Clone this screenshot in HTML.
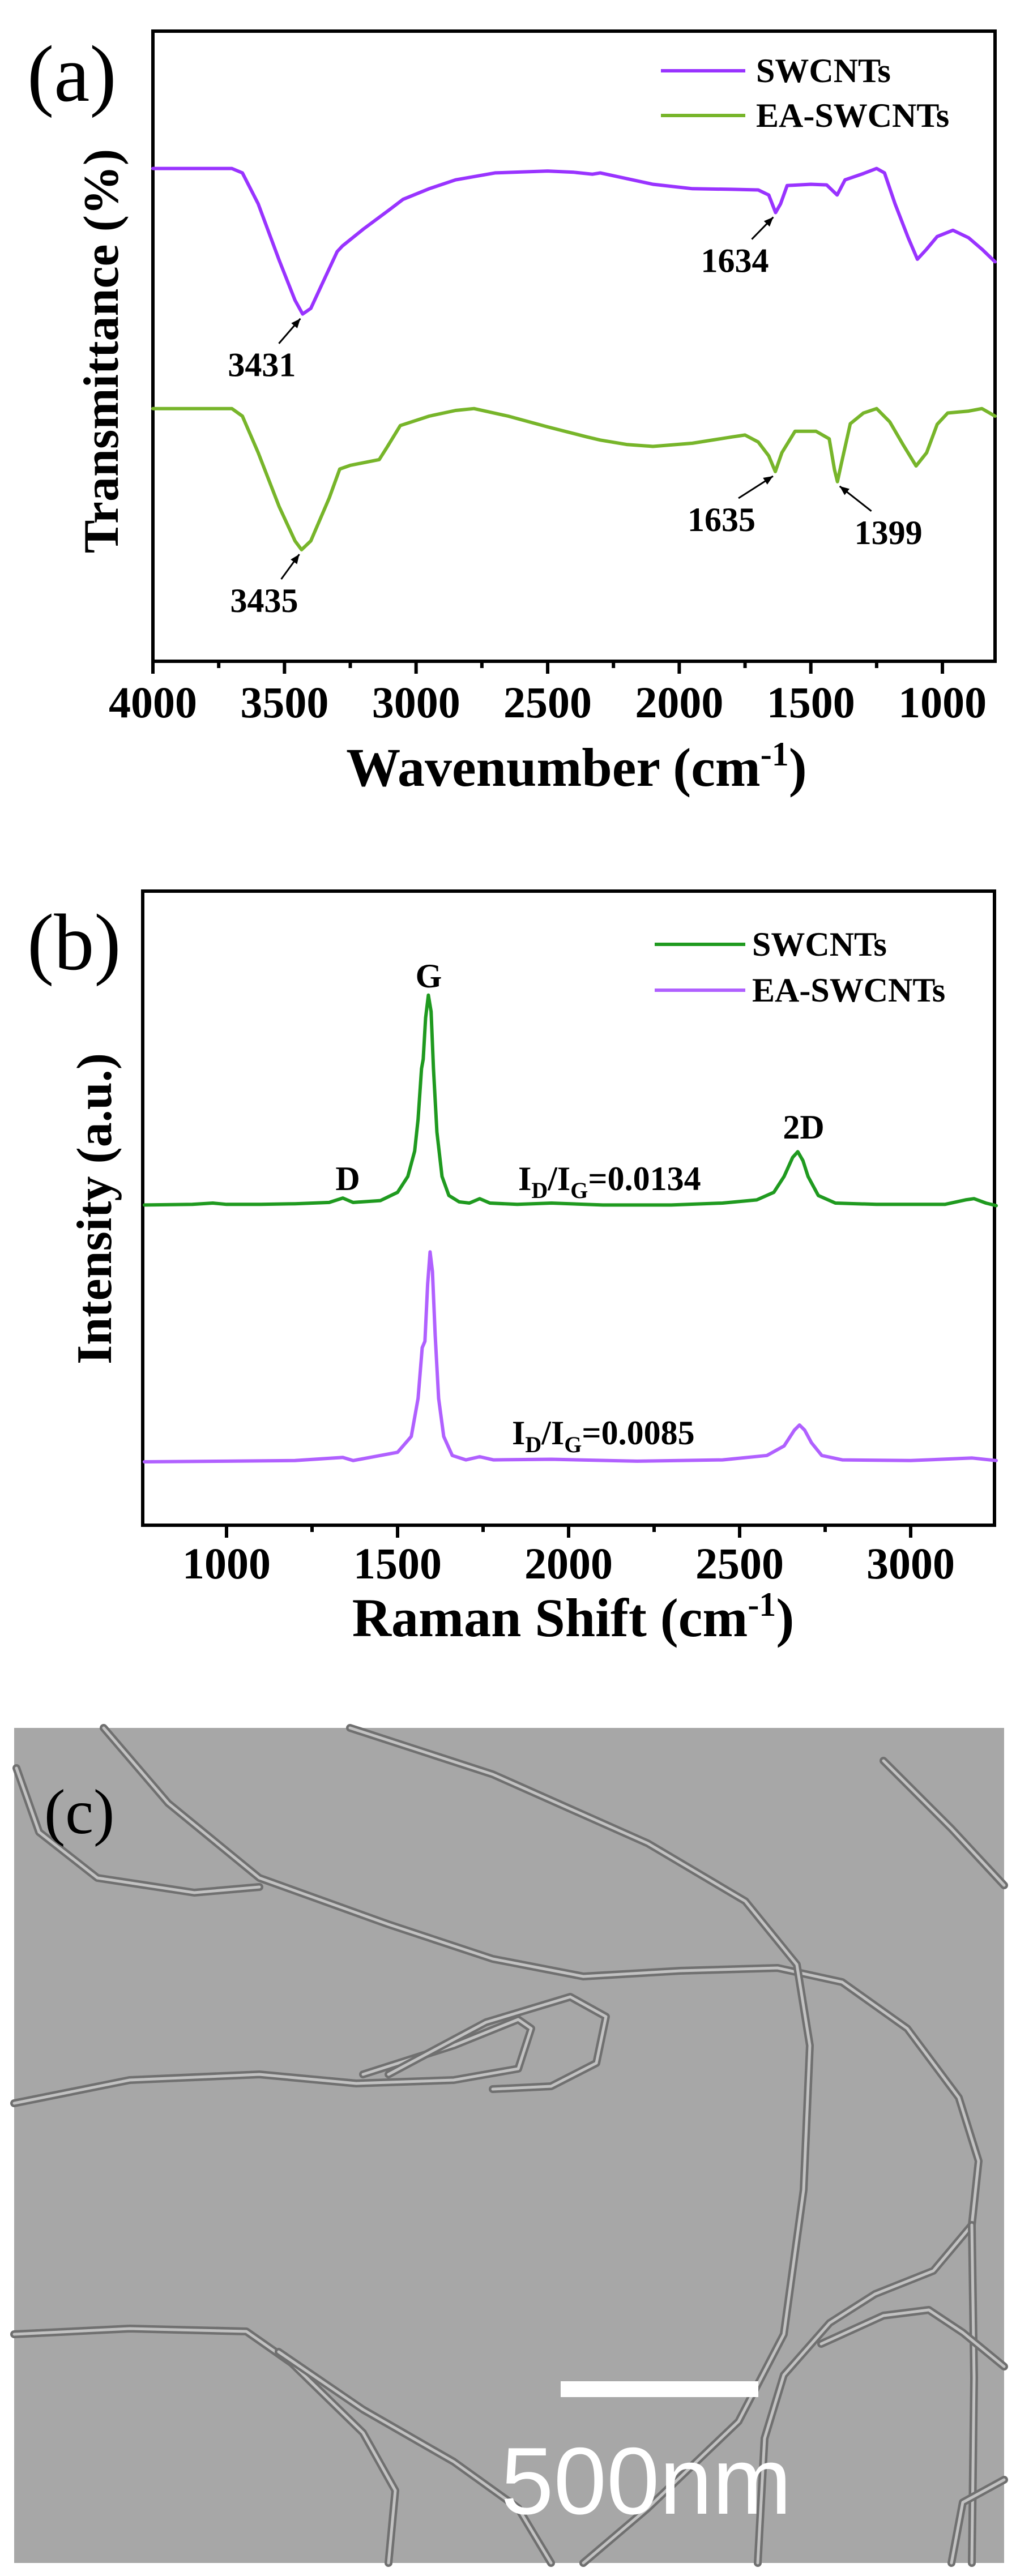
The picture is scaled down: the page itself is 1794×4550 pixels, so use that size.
<!DOCTYPE html>
<html><head><meta charset="utf-8">
<style>
html,body{margin:0;padding:0;background:#fff;}
svg{display:block;}
text{font-family:"Liberation Serif",serif;}
</style></head>
<body>
<svg id="fig" width="1794" height="4550" viewBox="0 0 1794 4550" xmlns="http://www.w3.org/2000/svg">
<rect width="1794" height="4550" fill="#fff"/>
<g id="pa"></g>
<g id="pb"></g>
<g id="pc">
  <rect x="25" y="3052" width="1748" height="1475" fill="#a7a7a7"/>
  <g fill="none" stroke-linecap="round" stroke-linejoin="round" id="fibers"></g>
  <rect x="990" y="4206" width="349" height="28" fill="#fff"/>
  <text x="1141" y="4440" style="font-family:'Liberation Sans',sans-serif" font-size="168" fill="#fff" text-anchor="middle">500nm</text>
  <text x="78" y="3238" font-size="112" fill="#000">(c)</text>
</g>
</svg>
<script>
// ---------- Panel (a) FTIR data ----------
const ftirWave = [4000,3700,3660,3600,3520,3460,3431,3400,3350,3300,3280,3200,3100,3050,2950,2850,2700,2500,2400,2330,2300,2200,2100,1950,1800,1700,1660,1634,1615,1590,1500,1440,1400,1370,1300,1250,1220,1180,1130,1095,1060,1020,960,900,850,800];
const ftirSW = [78.2,78.2,77.5,72.6,63.6,57.3,55.1,56,60.5,65,65.9,68.6,71.7,73.3,75,76.4,77.5,77.8,77.6,77.3,77.5,76.6,75.7,75,74.9,74.8,74,71.2,72.6,75.5,75.7,75.6,74,76.4,77.4,78.2,77.5,72.6,67.2,63.8,65.4,67.4,68.4,67.2,65.4,63.4];
const ftirWaveEA = [4000,3700,3660,3600,3520,3460,3435,3400,3330,3290,3250,3140,3110,3060,2950,2850,2780,2650,2500,2350,2300,2200,2100,1950,1800,1750,1700,1660,1635,1610,1560,1480,1430,1410,1399,1385,1350,1300,1250,1200,1150,1100,1060,1020,980,900,850,800];
const ftirEA = [40.1,40.1,38.9,33.1,24.5,19.1,17.7,19.1,25.9,30.5,31.1,32,34,37.4,38.9,39.8,40.1,38.9,37.2,35.6,35.1,34.4,34.1,34.6,35.6,35.9,34.8,32.6,30.1,33.1,36.5,36.5,35.3,30.4,28.5,31.2,37.7,39.4,40.1,38,34.4,31,33.1,37.6,39.4,39.7,40.1,38.9];
const ftirTicks = [4000,3500,3000,2500,2000,1500,1000];
const ftirPeaksSW = [3431,1634];
const ftirPeaksEA = [3435,1635,1399];

// ---------- Panel (b) Raman data ----------
const ramanShift = [760,900,960,1000,1100,1200,1300,1340,1370,1450,1500,1530,1550,1560,1570,1575,1582,1590,1598,1605,1615,1630,1650,1680,1710,1740,1770,1850,1950,2100,2300,2450,2550,2600,2630,2655,2670,2685,2700,2730,2780,2900,3100,3160,3185,3220,3250];
const ramanSW = [50.5,50.6,50.8,50.6,50.6,50.7,50.9,51.6,50.9,51.2,52.5,55,59,64,72,73.5,80,83.6,81,72,62,55,52,51,50.8,51.5,50.8,50.6,50.8,50.5,50.5,50.8,51.3,52.5,55,58,58.9,57.5,55,52,50.8,50.6,50.6,51.3,51.5,50.8,50.4];
const ramanShiftEA = [760,1000,1200,1340,1370,1500,1540,1560,1572,1580,1588,1595,1602,1610,1620,1635,1660,1700,1740,1780,1950,2200,2450,2580,2630,2660,2675,2690,2710,2740,2800,3000,3180,3250];
const ramanEA = [10,10.1,10.2,10.7,10.2,11.5,14,20,28,29,38,43.1,40,30,20,14,11,10.3,10.8,10.3,10.4,10.1,10.3,11,12.5,15,15.8,15,13,11,10.3,10.2,10.6,10.2];
const ramanTicks = [1000,1500,2000,2500,3000];

const NS="http://www.w3.org/2000/svg";
function mk(parent,tag,attrs,txt){const e=document.createElementNS(NS,tag);for(const k in attrs)e.setAttribute(k,attrs[k]);if(txt!==undefined)e.textContent=txt;parent.appendChild(e);return e;}

// ===== Panel A =====
const A={l:270,r:1757,t:55,b:1168,x0:4000,x1:800};
const xA=w=>A.l+(A.x0-w)*(A.r-A.l)/(A.x0-A.x1);
const yA=v=>A.b-v*(A.b-A.t)/100;
const pa=document.getElementById('pa');
const laA=mk(pa,'text',{x:48,y:178,'font-size':142,fill:'#000'},'(a)');


const frA=mk(pa,'rect',{x:A.l,y:A.t,width:A.r-A.l,height:A.b-A.t,fill:'none',stroke:'#000','stroke-width':6});


for(let w=4000;w>=800;w-=250){
  const major=ftirTicks.includes(w);
  const t=mk(pa,'line',{x1:xA(w),x2:xA(w),y1:A.b,y2:A.b+(major?22:12),stroke:'#000','stroke-width':6});
  
  
}
ftirTicks.forEach(w=>{
  const t=mk(pa,'text',{x:xA(w),y:1267,'font-size':78,'font-weight':'bold','text-anchor':'middle'},String(w));
  
  
});
const xtA=mk(pa,'text',{x:1018,y:1388,'font-size':96,'font-weight':'bold','text-anchor':'middle'});


xtA.innerHTML='Wavenumber (cm<tspan dy="-36" font-size="60">-1</tspan><tspan dy="36">)</tspan>';
const ytA=mk(pa,'text',{x:0,y:0,'font-size':88,'font-weight':'bold','text-anchor':'middle',transform:'translate(208,620) rotate(-90)'},'Transmittance (%)');


function poly(parent,xs,ys,fx,fy,color,w){return mk(parent,'polyline',{points:xs.map((x,i)=>fx(x).toFixed(1)+','+fy(ys[i]).toFixed(1)).join(' '),fill:'none',stroke:color,'stroke-width':w,'stroke-linejoin':'round','stroke-linecap':'round'});}
const sA1=poly(pa,ftirWave,ftirSW,xA,yA,'#9933ff',6);


const sA2=poly(pa,ftirWaveEA,ftirEA,xA,yA,'#77b52a',6);


[['SWCNTs','#9933ff',125],['EA-SWCNTs','#77b52a',204]].forEach(([n,c,y])=>{
  const l=mk(pa,'line',{x1:1167,x2:1316,y1:y,y2:y,stroke:c,'stroke-width':6});
  
  
  const t=mk(pa,'text',{x:1335,y:y+20,'font-size':60,'font-weight':'bold'},n);
  
  
});
function interp(xs,ys,x){for(let i=0;i<xs.length-1;i++){if((xs[i]-x)*(xs[i+1]-x)<=0){const f=(x-xs[i])/(xs[i+1]-xs[i]);return ys[i]+f*(ys[i+1]-ys[i]);}}return ys[ys.length-1];}
function arrowTo(parent,x1,y1,x2,y2){
  const l=mk(parent,'line',{x1:x1,y1:y1,x2:x2,y2:y2,stroke:'#000','stroke-width':3});
  
  
  const a=Math.atan2(y2-y1,x2-x1),s=18;
  const p=mk(parent,'polygon',{points:`${x2},${y2} ${x2-s*Math.cos(a-0.4)},${y2-s*Math.sin(a-0.4)} ${x2-s*Math.cos(a+0.4)},${y2-s*Math.sin(a+0.4)}`,fill:'#000'});
  
  
}
const labOff={3431:[-72,110],1634:[-72,105],3435:[-66,110],1635:[-95,105],1399:[90,110]};
function annotate(w,xs,ys){
  const px=xA(w),py=yA(interp(xs,ys,w));const o=labOff[w];
  const lx=px+o[0],ly=py+o[1];
  const t=mk(pa,'text',{x:lx,y:ly,'font-size':60,'font-weight':'bold','text-anchor':'middle'},String(w));
  
  
  arrowTo(pa,lx+(o[0]>0?-30:30),ly-58,px+(o[0]>0?4:-4),py+8);
}
ftirPeaksSW.forEach(w=>annotate(w,ftirWave,ftirSW));
ftirPeaksEA.forEach(w=>annotate(w,ftirWaveEA,ftirEA));

// ===== Panel B =====
const B={l:252,r:1756,t:1574,b:2694,x0:755,x1:3245};
const xB=r=>B.l+(r-B.x0)*(B.r-B.l)/(B.x1-B.x0);
const yB=v=>B.b-v*(B.b-B.t)/100;
const pb=document.getElementById('pb');
const laB=mk(pb,'text',{x:48,y:1712,'font-size':142,fill:'#000'},'(b)');


const frB=mk(pb,'rect',{x:B.l,y:B.t,width:B.r-B.l,height:B.b-B.t,fill:'none',stroke:'#000','stroke-width':6});


for(let r=750;r<=3250;r+=250){
  if(r<B.x0||r>B.x1)continue;
  const major=ramanTicks.includes(r);
  const t=mk(pb,'line',{x1:xB(r),x2:xB(r),y1:B.b,y2:B.b+(major?22:12),stroke:'#000','stroke-width':6});
  
  
}
ramanTicks.forEach(r=>{
  const t=mk(pb,'text',{x:xB(r),y:2788,'font-size':78,'font-weight':'bold','text-anchor':'middle'},String(r));
  
  
});
const xtB=mk(pb,'text',{x:1012,y:2890,'font-size':96,'font-weight':'bold','text-anchor':'middle'});


xtB.innerHTML='Raman Shift (cm<tspan dy="-36" font-size="60">-1</tspan><tspan dy="36">)</tspan>';
const ytB=mk(pb,'text',{x:0,y:0,'font-size':88,'font-weight':'bold','text-anchor':'middle',transform:'translate(196,2135) rotate(-90)'},'Intensity (a.u.)');


const sB1=poly(pb,ramanShift,ramanSW,xB,yB,'#1f9a1f',6);


const sB2=poly(pb,ramanShiftEA,ramanEA,xB,yB,'#b060ff',6);


[['SWCNTs','#1f9a1f',1668],['EA-SWCNTs','#b060ff',1749]].forEach(([n,c,y])=>{
  const l=mk(pb,'line',{x1:1156,x2:1316,y1:y,y2:y,stroke:c,'stroke-width':6});
  
  
  const t=mk(pb,'text',{x:1328,y:y+20,'font-size':60,'font-weight':'bold'},n);
  
  
});
[['G',757,1744],['D',614,2102],['2D',1419,2011]].forEach(([s,x,y])=>{
  const t=mk(pb,'text',{x:x,y:y,'font-size':60,'font-weight':'bold','text-anchor':'middle'},s);
  
  
});
[['0.0134',915,2102],['0.0085',904,2551]].forEach(([v,x,y])=>{
  const t=mk(pb,'text',{x:x,y:y,'font-size':60,'font-weight':'bold'});
  
  
  t.innerHTML='I<tspan dy="14" font-size="40">D</tspan><tspan dy="-14">/I</tspan><tspan dy="14" font-size="40">G</tspan><tspan dy="-14">='+v+'</tspan>';
});

// ===== Panel C fibers =====
const fibers=[
 [[183,3052],[297,3185],[458,3317],[686,3399],[870,3460],[1030,3491],[1201,3481],[1373,3476],[1487,3501],[1602,3583],[1693,3705],[1728,3817],[1716,3930],[1648,4011],[1545,4052],[1465,4103],[1384,4195],[1350,4307],[1338,4527]],
 [[618,3052],[870,3134],[1144,3256],[1316,3358],[1407,3470],[1430,3613],[1419,3868],[1384,4123],[1304,4277],[1144,4430],[1030,4527]],
 [[29,3123],[69,3236],[172,3317],[343,3343],[458,3333]],
 [[25,3715],[229,3674],[458,3664],[629,3680],[801,3674],[915,3654],[938,3583],[915,3567],[801,3613],[641,3664]],
 [[686,3664],[858,3572],[1007,3527],[1070,3562],[1053,3644],[973,3685],[870,3690]],
 [[25,4123],[229,4113],[435,4118],[515,4174],[641,4297],[698,4399],[686,4527]],
 [[492,4154],[641,4256],[801,4348],[915,4430],[973,4527]],
 [[1716,3930],[1720,4200],[1716,4527]],
 [[1450,4140],[1560,4090],[1640,4080],[1700,4120],[1773,4180]],
 [[1680,4527],[1700,4420],[1773,4380]],
 [[1560,3110],[1680,3230],[1773,3330]]
];
const fg=document.getElementById('fibers');
fibers.forEach(f=>{
  const pts=f.map(p=>p.join(',')).join(' ');
  const o=mk(fg,'polyline',{points:pts,stroke:'#707070','stroke-width':14});
  
  
  const c=mk(fg,'polyline',{points:pts,stroke:'#c2c2c2','stroke-width':5});
  
  
});
</script>
</body></html>
